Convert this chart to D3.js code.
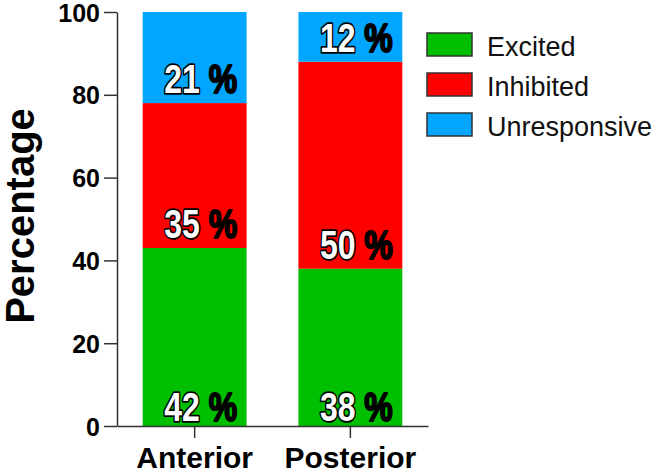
<!DOCTYPE html>
<html>
<head>
<meta charset="utf-8">
<script src="https://cdn.jsdelivr.net/npm/d3@7"></script>
<style>
  body { margin: 0; background: #fff; }
  svg { display: block; font-family: "Liberation Sans", Arial, sans-serif; }
</style>
</head>
<body>
<div id="chart-container"></div>
<script>
// data
const regions = ["Anterior", "Posterior"];
const groups = ["Excited", "Inhibited", "Unresponsive"];
const excited = [43, 38];
const inhibited = [35, 50];
const unresponsive = [22, 12];
const excitedLabels = ["42 %", "38 %"];
const inhibitedLabels = ["35 %", "50 %"];
const unresponsiveLabels = ["21 %", "12 %"];
const yTicks = [0, 20, 40, 60, 80, 100];
const colors = ["#00bf00", "#ff0000", "#00a6ff"];

const width = 656, height = 470;

const svg = d3.select("#chart-container")
    .append("svg")
    .attr("width", width)
    .attr("height", height);

const x = d3.scaleBand()
    .domain(regions)
    .range([117, 428])
    .paddingInner(0.333)
    .paddingOuter(0.165);

const y = d3.scaleLinear()
    .domain([0, 100])
    .range([426, 12]);

// stack the three series
const rows = regions.map((r, i) => ({
    region: r,
    Excited: excited[i],
    Inhibited: inhibited[i],
    Unresponsive: unresponsive[i]
}));
const labelSets = [excitedLabels, inhibitedLabels, unresponsiveLabels];
const stacked = d3.stack().keys(groups)(rows);

const color = d3.scaleOrdinal().domain(groups).range(colors);

// bars
svg.append("g")
    .selectAll("g")
    .data(stacked)
    .join("g")
    .attr("fill", d => color(d.key))
    .selectAll("rect")
    .data(d => d)
    .join("rect")
    .attr("x", d => x(d.data.region))
    .attr("width", x.bandwidth())
    .attr("y", d => y(d[1]))
    .attr("height", d => y(d[0]) - y(d[1]));

// percentage labels, near the bottom of each segment
stacked.forEach((series, si) => {
    series.forEach((d, i) => {
        const cx = x(d.data.region) + x.bandwidth() / 2 + 6;
        const by = y(d[0]) - (si === 0 ? 5 : 10);
        const txt = labelSets[si][i];
        const t = svg.append("text")
            .attr("transform", `translate(${cx},${by}) scale(0.78,1)`)
            .attr("text-anchor", "middle")
            .style("font-size", "41px")
            .style("font-weight", "bold")
            .attr("fill", "#fff")
            .attr("stroke", "#000")
            .attr("stroke-width", 3.5)
            .attr("stroke-linejoin", "round")
            .attr("paint-order", "stroke");
        t.append("tspan").text(txt.replace("%", ""));
        t.append("tspan")
            .attr("fill", "#000")
            .attr("stroke", "#000")
            .attr("stroke-width", 2)
            .text("%");
    });
});

// y axis
const yAxis = svg.append("g")
    .attr("transform", "translate(117,0)")
    .call(d3.axisLeft(y).tickValues(yTicks).tickSize(13).tickPadding(4).tickSizeOuter(0));
yAxis.selectAll("text")
    .attr("dy", "0.36em")
    .style("font-size", "25px")
    .style("font-weight", "bold")
    .attr("fill", "#000");

// x axis
const xAxis = svg.append("g")
    .attr("transform", "translate(0,426)")
    .call(d3.axisBottom(x).tickSize(12).tickSizeOuter(0));
xAxis.selectAll("text")
    .attr("y", 42)
    .attr("dy", 0)
    .style("font-size", "30px")
    .style("font-weight", "bold")
    .attr("fill", "#000");

svg.selectAll(".domain, .tick line")
    .attr("stroke", "#333")
    .attr("stroke-width", 1.5);

// y axis title
svg.append("text")
    .attr("transform", "translate(34,216) rotate(-90)")
    .attr("text-anchor", "middle")
    .style("font-size", "40px")
    .style("font-weight", "bold")
    .text("Percentage");

// legend
const legend = svg.append("g")
    .attr("transform", "translate(427,33)");

groups.forEach((g, i) => {
    const row = legend.append("g").attr("transform", `translate(0,${i * 40})`);
    row.append("rect")
        .attr("width", 45)
        .attr("height", 23)
        .attr("fill", color(g))
        .attr("stroke", "#333")
        .attr("stroke-width", 1.5);
    row.append("text")
        .attr("x", 60)
        .attr("y", 23)
        .style("font-size", "27px")
        .attr("fill", "#111")
        .text(g);
});
</script>
</body>
</html>
